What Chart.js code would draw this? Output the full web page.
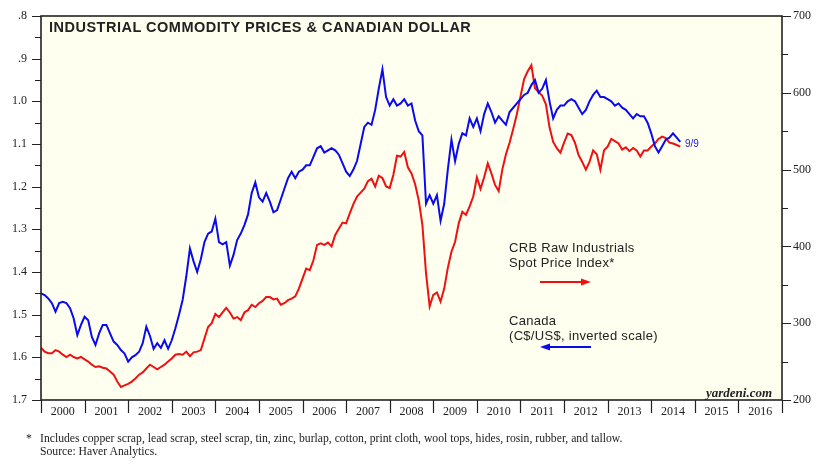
<!DOCTYPE html>
<html><head><meta charset="utf-8">
<script src="https://cdn.jsdelivr.net/npm/chart.js@4/dist/chart.umd.min.js"></script>
<style>
body{margin:0;background:#fff;}
#wrap{position:relative;width:832px;height:475px;overflow:hidden;background:#fff;}
canvas{position:absolute;left:0;top:0;}
.t{position:absolute;white-space:nowrap;line-height:1;}
.sans{font-family:'Liberation Sans',Arial,sans-serif;color:#222;}
.serif{font-family:'Liberation Serif','Times New Roman',serif;color:#222;}
</style></head><body>
<div id="wrap">
<canvas id="c" width="832" height="475"></canvas>
<div class="t sans" style="left:49px;top:20px;font-weight:bold;font-size:14.5px;letter-spacing:0.5px;">INDUSTRIAL COMMODITY PRICES &amp; CANADIAN DOLLAR</div>
<div class="t sans" style="left:509px;top:240px;font-size:13px;letter-spacing:0.3px;line-height:15px;">CRB Raw Industrials<br>Spot Price Index*</div>
<div class="t sans" style="left:509px;top:313px;font-size:13px;letter-spacing:0.3px;line-height:15px;">Canada<br>(C$/US$, inverted scale)</div>
<svg class="t" style="left:535px;top:274px" width="60" height="80">
  <line x1="5" y1="8" x2="48" y2="8" stroke="#ee1111" stroke-width="2"/>
  <polygon points="46,4.5 56,8 46,11.5" fill="#ee1111"/>
  <line x1="14" y1="73" x2="56" y2="73" stroke="#0a0aef" stroke-width="2"/>
  <polygon points="15,69.5 5,73 15,76.5" fill="#0a0aef"/>
</svg>
<div class="t sans" style="left:685px;top:139px;font-size:10px;color:#1a1adf;">9/9</div>
<div class="t serif" style="left:706px;top:386px;font-size:13px;font-style:italic;font-weight:bold;">yardeni.com</div>
<div class="t serif" style="left:26px;top:433px;font-size:11.7px;">*</div>
<div class="t serif" style="left:40px;top:432px;font-size:11.7px;line-height:13px;">Includes copper scrap, lead scrap, steel scrap, tin, zinc, burlap, cotton, print cloth, wool tops, hides, rosin, rubber, and tallow.<br>Source: Haver Analytics.</div>
</div>
<script>
// Monthly observations starting January 2000 (last point: September 2014)
const startYear = 2000;
const yearLabels = ['2000','2001','2002','2003','2004','2005','2006','2007','2008','2009','2010','2011','2012','2013','2014','2015','2016'];

// Canada: C$ per US$ (left axis, inverted)
const canadaPerUSD = [
  1.450,1.454,1.462,1.473,1.493,1.473,1.470,1.473,1.485,1.509,1.548,1.524,
  1.505,1.513,1.552,1.571,1.544,1.524,1.524,1.544,1.563,1.571,1.583,1.591,
  1.610,1.600,1.595,1.587,1.567,1.528,1.550,1.580,1.567,1.578,1.560,1.580,
  1.560,1.532,1.500,1.465,1.410,1.345,1.375,1.400,1.370,1.330,1.310,1.305,
  1.275,1.330,1.335,1.330,1.385,1.360,1.325,1.310,1.290,1.265,1.215,1.190,
  1.225,1.235,1.215,1.235,1.260,1.255,1.230,1.205,1.180,1.165,1.180,1.165,
  1.160,1.150,1.150,1.130,1.110,1.105,1.120,1.115,1.110,1.115,1.125,1.145,
  1.165,1.175,1.160,1.140,1.100,1.060,1.050,1.055,1.020,0.970,0.925,0.990,
  1.010,0.995,1.010,1.005,0.995,1.010,1.005,1.045,1.070,1.080,1.240,1.220,
  1.240,1.220,1.280,1.240,1.160,1.090,1.140,1.100,1.075,1.080,1.040,1.060,
  1.040,1.070,1.030,1.005,1.025,1.050,1.035,1.045,1.055,1.025,1.015,1.005,
  0.995,0.985,0.980,0.962,0.950,0.980,0.970,0.950,1.000,1.040,1.020,1.010,
  1.010,1.000,0.995,1.000,1.015,1.030,1.020,1.000,0.985,0.975,0.990,0.990,
  0.995,1.000,1.010,1.005,1.015,1.020,1.030,1.040,1.030,1.035,1.035,1.050,
  1.075,1.105,1.120,1.105,1.090,1.085,1.075,1.085,1.095
];

// CRB Raw Industrials Spot Price Index (right axis)
const crbRawIndustrials = [
  268,263,261,261,265,263,259,256,259,256,254,256,
  253,250,246,243,244,242,241,237,233,224,217,219,
  221,224,228,233,236,241,246,243,240,243,246,250,
  254,259,260,259,263,257,262,263,265,280,295,300,
  312,308,314,320,314,306,308,304,314,317,324,321,
  326,329,334,334,331,332,324,326,330,332,335,345,
  358,371,369,382,402,404,402,405,400,415,423,431,
  430,443,455,465,470,475,485,488,478,492,489,478,
  476,493,518,517,523,503,495,481,460,428,365,322,
  337,340,328,345,372,393,406,430,445,441,452,465,
  490,475,490,508,495,480,472,500,520,535,553,572,
  595,618,628,636,606,601,596,585,555,536,528,522,
  535,547,545,535,519,510,500,510,525,520,500,525,
  530,540,537,534,526,529,524,528,525,517,525,525,
  530,534,540,543,541,535,534,532,530
];

const toPoints = arr => arr.map((v, i) => ({x: startYear + i / 12, y: v}));
const BG = '#fffff0';
const AX = '#222';
const serif = "'Liberation Serif','Times New Roman',serif";

const framePlugin = {
  id: 'frame',
  beforeDatasetsDraw(chart) {
    const a = chart.chartArea, ctx = chart.ctx;
    ctx.save(); ctx.fillStyle = BG;
    ctx.fillRect(a.left, a.top, a.right - a.left, a.bottom - a.top);
    ctx.restore();
  },
  afterDatasetsDraw(chart) {
    const a = chart.chartArea, ctx = chart.ctx;
    ctx.save();
    ctx.strokeStyle = AX; ctx.lineWidth = 1.6;
    ctx.strokeRect(a.left, a.top, a.right - a.left, a.bottom - a.top);
    ctx.lineWidth = 1.2;
    ctx.beginPath();
    const yl = chart.scales.yL, yr = chart.scales.yR, x = chart.scales.x;
    yl.ticks.forEach(t => {
      const p = Math.round(yl.getPixelForValue(t.value)) + 0.5;
      const major = Math.abs(t.value * 10 - Math.round(t.value * 10)) < 1e-6;
      ctx.moveTo(a.left, p); ctx.lineTo(a.left - (major ? 9 : 6), p);
    });
    yr.ticks.forEach(t => {
      const p = Math.round(yr.getPixelForValue(t.value)) + 0.5;
      const major = t.value % 100 === 0;
      ctx.moveTo(a.right, p); ctx.lineTo(a.right + (major ? 9 : 6), p);
    });
    for (let yv = 2000; yv <= 2017; yv++) {
      const p = Math.round(x.getPixelForValue(yv)) + 0.5;
      ctx.moveTo(p, a.bottom); ctx.lineTo(p, a.bottom + 13);
    }
    ctx.stroke();
    ctx.restore();
  }
};

new Chart(document.getElementById('c'), {
  type: 'line',
  data: {
    datasets: [
      {label: 'Canada (C$/US$, inverted scale)', data: toPoints(canadaPerUSD), yAxisID: 'yL',
       borderColor: '#0a0aef', borderWidth: 2, pointRadius: 0, tension: 0},
      {label: 'CRB Raw Industrials Spot Price Index', data: toPoints(crbRawIndustrials), yAxisID: 'yR',
       borderColor: '#ee1111', borderWidth: 2, pointRadius: 0, tension: 0}
    ]
  },
  options: {
    responsive: false, animation: false,
    layout: {padding: {top: 16, left: 0, right: 0, bottom: 0}},
    plugins: {legend: {display: false}, tooltip: {enabled: false}},
    scales: {
      x: {
        type: 'linear', position: 'bottom', min: 2000, max: 2017,
        grid: {display: false}, border: {display: false},
        afterBuildTicks: s => { s.ticks = yearLabels.map((l, i) => ({value: startYear + i + 0.5})); },
        afterFit: s => { s.height = 75; },
        ticks: {autoSkip: false, maxRotation: 0, padding: -3, color: AX,
                font: {family: serif, size: 12},
                callback: v => yearLabels[Math.floor(v) - startYear]}
      },
      yL: {
        type: 'linear', position: 'left', reverse: true, min: 0.8, max: 1.7,
        grid: {display: false}, border: {display: false},
        afterFit: s => { s.width = 41; },
        ticks: {stepSize: 0.05, autoSkip: false, padding: 6, color: AX,
                font: {family: serif, size: 12},
                callback: v => {
                  if (Math.abs(v * 10 - Math.round(v * 10)) > 1e-6) return '';
                  return v < 1 ? '.' + Math.round(v * 10) : v.toFixed(1);
                }}
      },
      yR: {
        type: 'linear', position: 'right', min: 200, max: 700,
        grid: {display: false}, border: {display: false},
        afterFit: s => { s.width = 50; },
        ticks: {stepSize: 50, autoSkip: false, padding: 3, color: AX,
                font: {family: serif, size: 12},
                callback: v => (v % 100 === 0 ? String(v) : '')}
      }
    }
  },
  plugins: [framePlugin]
});
</script>
</body></html>
